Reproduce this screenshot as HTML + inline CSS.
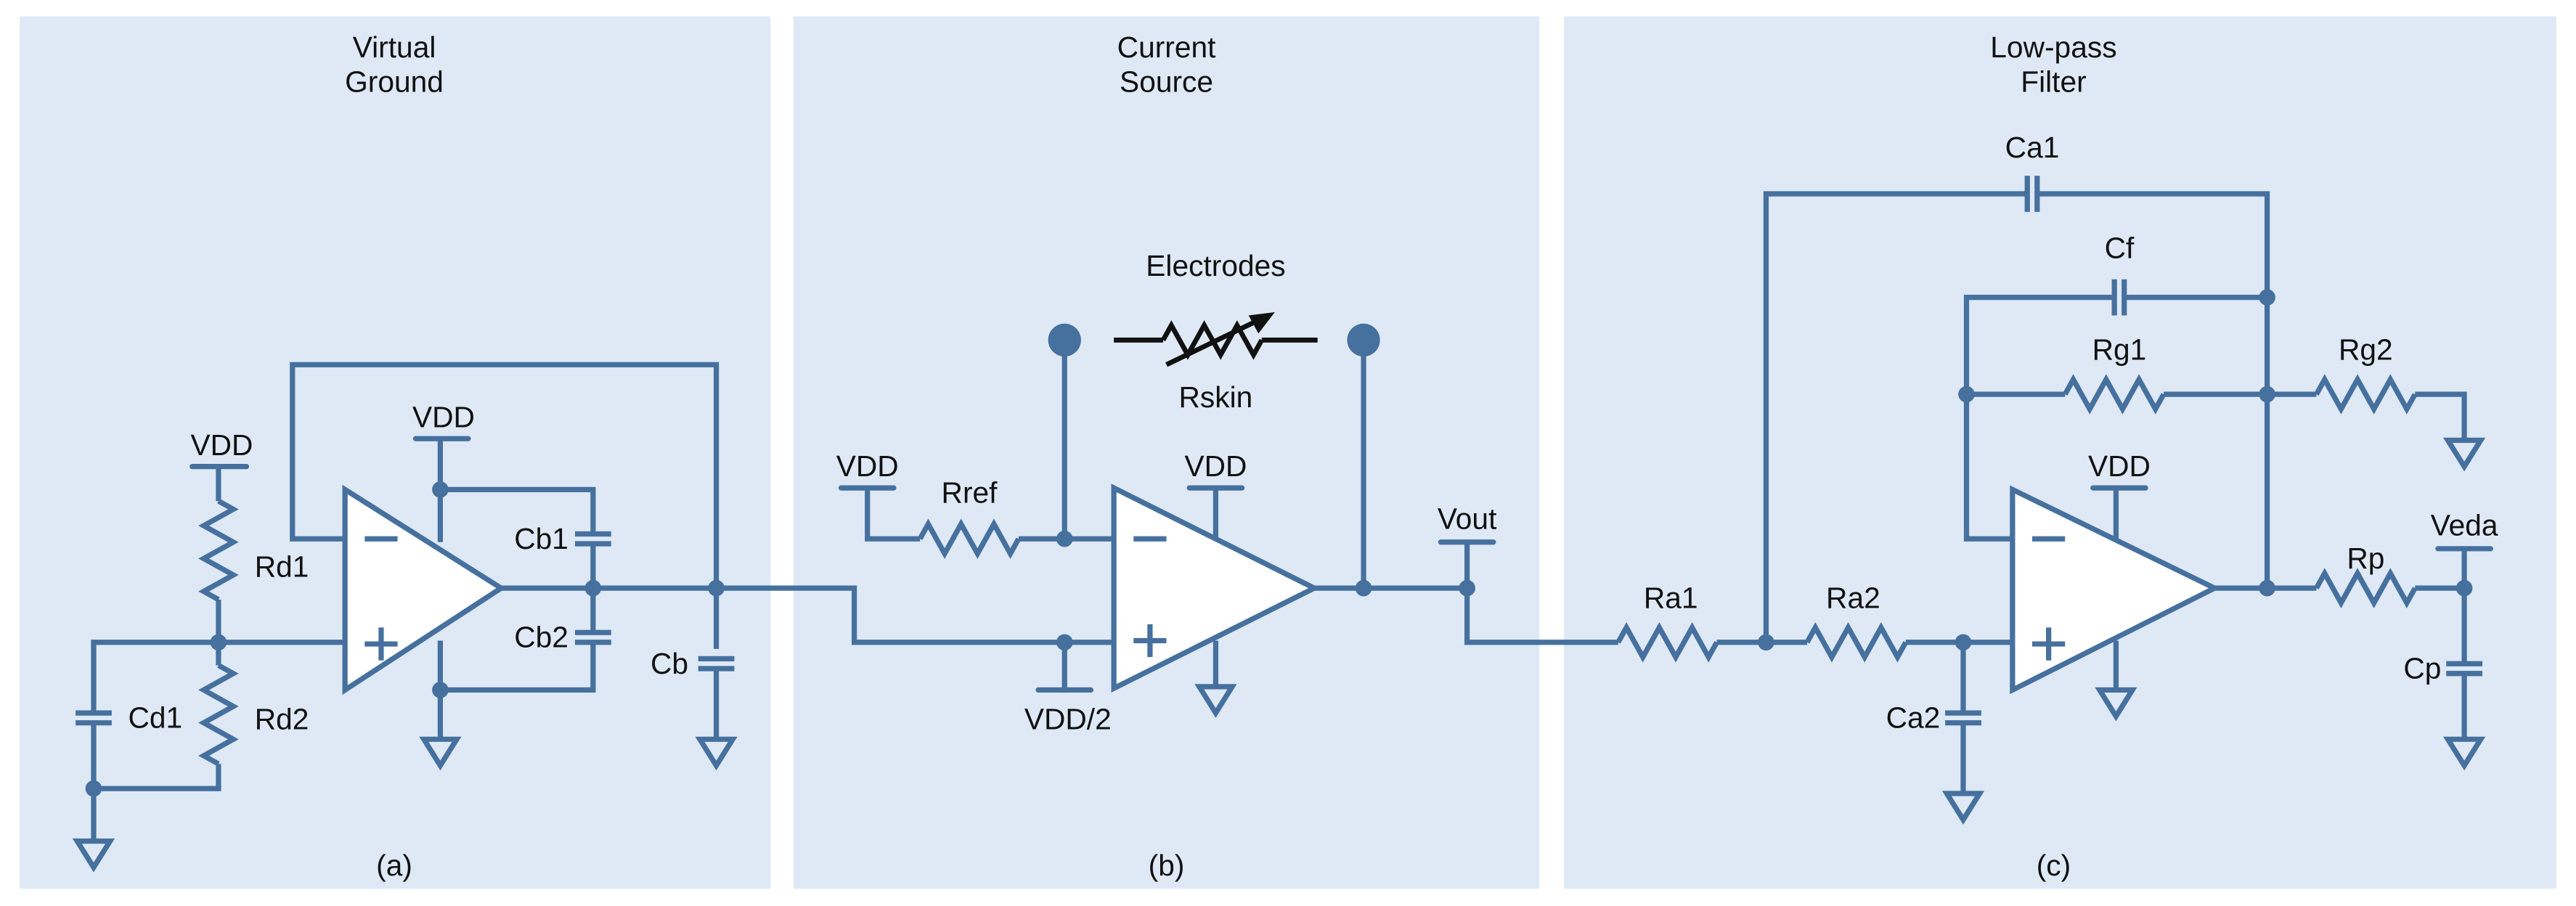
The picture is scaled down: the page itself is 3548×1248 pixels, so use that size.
<!DOCTYPE html>
<html><head><meta charset="utf-8"><style>
html,body{margin:0;padding:0;background:#fff;}
svg{display:block;}
text{font-family:"Liberation Sans",Arial,sans-serif;font-size:18px;fill:#111;}
</style></head><body>
<svg width="3548" height="1248" viewBox="0 0 1568 551.5" preserveAspectRatio="none" xmlns="http://www.w3.org/2000/svg">
<defs>
<path id="r" d="M0,0 L5,-9 L15,9 L25,-9 L35,9 L45,-9 L55,9 L60,0" fill="none"/>
<path id="g" d="M-10,0 L10,0 L0,16 Z" fill="none"/>
</defs>
<rect x="0" y="0" width="1568" height="551.5" fill="#fff"/>
<rect x="12" y="10" width="457" height="531" fill="#dee9f5"/>
<rect x="483" y="10" width="454" height="531" fill="#dee9f5"/>
<rect x="952" y="10" width="604" height="531" fill="#dee9f5"/>

<g stroke="#46709e" stroke-width="3.2" fill="none" stroke-linejoin="miter">
<!-- Panel a -->
<polyline points="210,328 178,328 178,222 436,222 436,395"/>
<line x1="133" y1="391" x2="210" y2="391"/>
<line x1="117" y1="284" x2="150" y2="284" stroke-linecap="round"/>
<line x1="133" y1="284" x2="133" y2="305"/>
<use href="#r" transform="translate(133,305) rotate(90)"/>
<line x1="133" y1="365" x2="133" y2="405"/>
<use href="#r" transform="translate(133,405) rotate(90)"/>
<polyline points="133,465 133,480 57,480"/>
<polyline points="133,391 57,391 57,434"/>
<line x1="46" y1="434" x2="68" y2="434"/><line x1="46" y1="440" x2="68" y2="440"/>
<line x1="57" y1="440" x2="57" y2="512"/>
<use href="#g" transform="translate(57,512)"/>
<line x1="253" y1="267" x2="285" y2="267" stroke-linecap="round"/>
<line x1="268" y1="267" x2="268" y2="330"/>
<polyline points="268,298 361,298 361,325"/>
<line x1="350" y1="325" x2="372" y2="325"/><line x1="350" y1="331" x2="372" y2="331"/>
<line x1="361" y1="331" x2="361" y2="385"/>
<line x1="350" y1="385" x2="372" y2="385"/><line x1="350" y1="391" x2="372" y2="391"/>
<polyline points="361,391 361,420 268,420"/>
<line x1="268" y1="390" x2="268" y2="450"/>
<use href="#g" transform="translate(268,450)"/>
<polyline points="305,358 520,358 520,391 678,391"/>
<line x1="425" y1="401" x2="447" y2="401"/><line x1="425" y1="407" x2="447" y2="407"/>
<line x1="436" y1="407" x2="436" y2="450"/>
<use href="#g" transform="translate(436,450)"/>
<polygon points="210,298 305,358 210,420" fill="#fff"/>
<line x1="222" y1="328" x2="242" y2="328"/>
<line x1="222" y1="392" x2="242" y2="392"/><line x1="232" y1="382" x2="232" y2="402"/>

<!-- Panel b -->
<line x1="512" y1="297" x2="544" y2="297" stroke-linecap="round"/>
<polyline points="528,297 528,328 560,328"/>
<use href="#r" transform="translate(560,328)"/>
<line x1="620" y1="328" x2="678" y2="328"/>
<line x1="648" y1="328" x2="648" y2="207"/>
<polyline points="648,391 648,420"/>
<line x1="632" y1="420" x2="664" y2="420" stroke-linecap="round"/>
<line x1="724" y1="297" x2="756" y2="297" stroke-linecap="round"/>
<line x1="740" y1="297" x2="740" y2="330"/>
<line x1="740" y1="390" x2="740" y2="418"/>
<use href="#g" transform="translate(740,418)"/>
<polyline points="800,358 893,358 893,391 985,391"/>
<line x1="830" y1="358" x2="830" y2="207"/>
<line x1="877" y1="330" x2="909" y2="330" stroke-linecap="round"/>
<line x1="893" y1="330" x2="893" y2="358"/>
<polygon points="678,297 800,358 678,419" fill="#fff"/>
<line x1="690" y1="328" x2="710" y2="328"/>
<line x1="690" y1="390" x2="710" y2="390"/><line x1="700" y1="380" x2="700" y2="400"/>

<!-- Panel c -->
<use href="#r" transform="translate(985,391)"/>
<line x1="1045" y1="391" x2="1100" y2="391"/>
<use href="#r" transform="translate(1100,391)"/>
<line x1="1160" y1="391" x2="1225" y2="391"/>
<polyline points="1075,391 1075,118 1234,118"/>
<line x1="1234" y1="107" x2="1234" y2="129"/><line x1="1240" y1="107" x2="1240" y2="129"/>
<polyline points="1240,118 1380,118 1380,358"/>
<line x1="1195" y1="391" x2="1195" y2="434"/>
<line x1="1184" y1="434" x2="1206" y2="434"/><line x1="1184" y1="440" x2="1206" y2="440"/>
<line x1="1195" y1="440" x2="1195" y2="483"/>
<use href="#g" transform="translate(1195,483)"/>
<polyline points="1225,328 1197,328 1197,181 1287,181"/>
<line x1="1287" y1="170" x2="1287" y2="192"/><line x1="1293" y1="170" x2="1293" y2="192"/>
<line x1="1293" y1="181" x2="1380" y2="181"/>
<line x1="1197" y1="240" x2="1257" y2="240"/>
<use href="#r" transform="translate(1257,240)"/>
<line x1="1317" y1="240" x2="1410" y2="240"/>
<use href="#r" transform="translate(1410,240)"/>
<polyline points="1470,240 1500,240 1500,268"/>
<use href="#g" transform="translate(1500,268)"/>
<line x1="1274" y1="297" x2="1306" y2="297" stroke-linecap="round"/>
<line x1="1288" y1="297" x2="1288" y2="330"/>
<line x1="1288" y1="390" x2="1288" y2="420"/>
<use href="#g" transform="translate(1288,420)"/>
<line x1="1348" y1="358" x2="1410" y2="358"/>
<use href="#r" transform="translate(1410,358)"/>
<line x1="1470" y1="358" x2="1500" y2="358"/>
<line x1="1484" y1="334" x2="1516" y2="334" stroke-linecap="round"/>
<line x1="1500" y1="334" x2="1500" y2="404"/>
<line x1="1489" y1="404" x2="1511" y2="404"/><line x1="1489" y1="410" x2="1511" y2="410"/>
<line x1="1500" y1="410" x2="1500" y2="450"/>
<use href="#g" transform="translate(1500,450)"/>
<polygon points="1225,298 1348,358 1225,420" fill="#fff"/>
<line x1="1237" y1="328" x2="1257" y2="328"/>
<line x1="1237" y1="392" x2="1257" y2="392"/><line x1="1247" y1="382" x2="1247" y2="402"/>
</g>

<g fill="#46709e">
<circle cx="133" cy="391" r="5"/><circle cx="57" cy="480" r="5"/>
<circle cx="268" cy="298" r="5"/><circle cx="268" cy="420" r="5"/>
<circle cx="361" cy="358" r="5"/><circle cx="436" cy="358" r="5"/>
<circle cx="648" cy="328" r="5"/><circle cx="648" cy="391" r="5"/>
<circle cx="830" cy="358" r="5"/><circle cx="893" cy="358" r="5"/>
<circle cx="648" cy="207" r="10"/><circle cx="830" cy="207" r="10"/>
<circle cx="1075" cy="391" r="5"/><circle cx="1195" cy="391" r="5"/>
<circle cx="1197" cy="240" r="5"/><circle cx="1380" cy="181" r="5"/>
<circle cx="1380" cy="240" r="5"/><circle cx="1380" cy="358" r="5"/>
<circle cx="1500" cy="358" r="5"/>
</g>

<g stroke="#111" stroke-width="3" fill="none">
<line x1="678" y1="207" x2="708" y2="207"/>
<path d="M708,207 L713,198 L723,216 L733,198 L743,216 L753,198 L763,216 L768,207"/>
<line x1="768" y1="207" x2="802" y2="207"/>
<line x1="710" y1="222" x2="770" y2="193"/>
</g>
<polygon points="776,190 760,192 766,203" fill="#111"/>

<g text-anchor="middle">
<text x="240" y="35">Virtual</text><text x="240" y="56">Ground</text>
<text x="710" y="35">Current</text><text x="710" y="56">Source</text>
<text x="1250" y="35">Low-pass</text><text x="1250" y="56">Filter</text>
<text x="240" y="533">(a)</text><text x="710" y="533">(b)</text><text x="1250" y="533">(c)</text>
<text x="135" y="277">VDD</text><text x="270" y="260">VDD</text>
<text x="528" y="290">VDD</text><text x="740" y="290">VDD</text>
<text x="590" y="306">Rref</text><text x="650" y="444">VDD/2</text>
<text x="740" y="168">Electrodes</text><text x="740" y="248">Rskin</text>
<text x="893" y="322">Vout</text>
<text x="1017" y="370">Ra1</text><text x="1128" y="370">Ra2</text>
<text x="1237" y="96">Ca1</text><text x="1290" y="157">Cf</text>
<text x="1290" y="219">Rg1</text><text x="1440" y="219">Rg2</text>
<text x="1290" y="290">VDD</text>
<text x="1440" y="346">Rp</text><text x="1500" y="326">Veda</text>
</g>
<text x="155" y="351">Rd1</text>
<text x="155" y="444">Rd2</text>
<text x="78" y="443">Cd1</text>
<g text-anchor="end">
<text x="346" y="334">Cb1</text>
<text x="346" y="394">Cb2</text>
<text x="419" y="410">Cb</text>
<text x="1181" y="443">Ca2</text>
<text x="1486" y="413">Cp</text>
</g>
</svg>
</body></html>
